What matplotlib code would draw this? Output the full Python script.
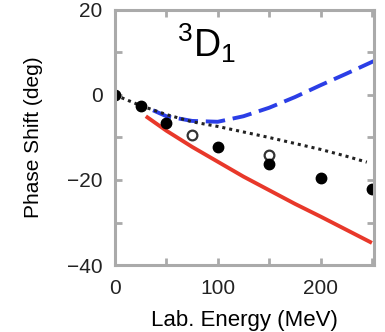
import numpy as np
import matplotlib.pyplot as plt

plt.rcParams['font.family'] = ['Liberation Sans', 'DejaVu Sans']
plt.rcParams['mathtext.fontset'] = 'custom'
plt.rcParams['mathtext.rm'] = 'Liberation Sans'
plt.rcParams['mathtext.it'] = 'Liberation Sans'

# experimental phase shifts (filled)
exp_e = [0, 25, 50, 100, 150, 200, 250]
exp_d = [0, -2.7, -6.6, -12.2, -16.2, -19.6, -22.2]
# other analysis (open)
alt_e = [75, 150]
alt_d = [-9.3, -14.2]

# red solid curve
red_e = [30, 50, 75, 100, 125, 150, 175, 200, 225, 250]
red_d = [-5.0, -8.4, -12.2, -15.7, -19.2, -22.4, -25.6, -28.6, -31.7, -34.8]
# blue dashed curve
blue_e = [37, 50, 75, 100, 125, 150, 175, 200, 225, 252]
blue_d = [-3.6, -5.0, -6.1, -6.3, -5.0, -3.0, -0.5, 2.3, 5.0, 8.0]
# black dotted curve
dot_e = [0, 25, 50, 75, 100, 125, 150, 175, 200, 225, 245]
dot_d = [0, -2.5, -4.6, -6.3, -7.4, -8.7, -10.0, -11.4, -12.8, -14.4, -15.8]

fig = plt.figure(figsize=(3.85, 3.32), dpi=100)
ax = fig.add_axes([0.2987, 0.2018, 0.6727, 0.7681])

ax.plot(red_e, red_d, color='#e8382a', lw=2.8, solid_capstyle='butt')
ax.plot(blue_e, blue_d, color='#2b3ee6', lw=2.8, dashes=(5, 2))
ax.plot(dot_e, dot_d, color='#222222', lw=2.2, dashes=(1, 1.3))
ax.plot(alt_e, alt_d, 'o', mfc='white', mec='#333333', mew=1.6, ms=7)
ax.plot(exp_e, exp_d, 'o', color='black', ms=7.5)

ax.set_xlim(0, 252)
ax.set_ylim(-40, 20)
ax.set_xticks([0, 100, 200])
ax.set_xticks([50, 150, 250], minor=True)
ax.set_yticks([-40, -20, 0, 20])
ax.set_yticks([-30, -10, 10], minor=True)

gray = '#aaaaaa'
for s in ax.spines.values():
    s.set_color(gray)
    s.set_linewidth(2.2)
ax.tick_params(which='both', direction='in', color=gray, width=2, length=5,
               top=True, right=True, labelsize=15, labelcolor='#222222')
ax.tick_params(axis='x', pad=10)
ax.tick_params(axis='y', pad=9)

ax.set_xlabel('Lab. Energy (MeV)', fontsize=16, labelpad=9)
ax.set_ylabel('Phase Shift (deg)', fontsize=15, labelpad=17)

ax.text(0.24, 0.87, r'$^{3}$D$_{1}$', transform=ax.transAxes, fontsize=27,
        ha='left', va='center')

fig.savefig('out.png', dpi=100)
